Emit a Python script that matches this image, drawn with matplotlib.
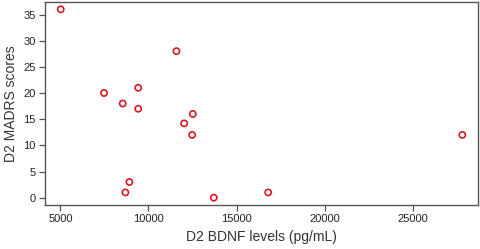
import matplotlib
matplotlib.use('Agg')
import matplotlib.pyplot as plt

plt.rcParams['font.family'] = ['Liberation Sans', 'DejaVu Sans']

# D2 BDNF levels (pg/mL) vs D2 MADRS scores
bdnf = [5020, 7480, 8540, 9420, 9420, 11590, 12520, 12030, 12480, 8920, 8690, 13710, 16800, 27820]
madrs = [36, 20, 18, 21, 17, 28, 16, 14.2, 12, 3, 1, 0, 1, 12]

xticks = [5000, 10000, 15000, 20000, 25000]
yticks = [0, 5, 10, 15, 20, 25, 30, 35]

fig = plt.figure(figsize=(4.8, 2.49), dpi=100)
ax = fig.add_axes([44.5 / 480, 1 - 205 / 249, (478 - 44.5) / 480, (205 - 2) / 249])

ax.scatter(bdnf, madrs, s=20, facecolors='none', edgecolors='#d7191f', linewidths=1.2)

ax.set_xlim(4100, 28710)
ax.set_ylim(-1.4, 37.4)
ax.set_xticks(xticks)
ax.set_yticks(yticks)
ax.tick_params(labelsize=8, length=4, width=0.9, color='#555555', labelcolor='#222222', pad=2.5)
for s in ax.spines.values():
    s.set_color('#555555')
    s.set_linewidth(1.0)

ax.set_xlabel('D2 BDNF levels (pg/mL)', fontsize=10, color='#333333', labelpad=4)
ax.set_ylabel('D2 MADRS scores', fontsize=10, color='#333333', labelpad=4)

fig.savefig('out.png', dpi=100)
